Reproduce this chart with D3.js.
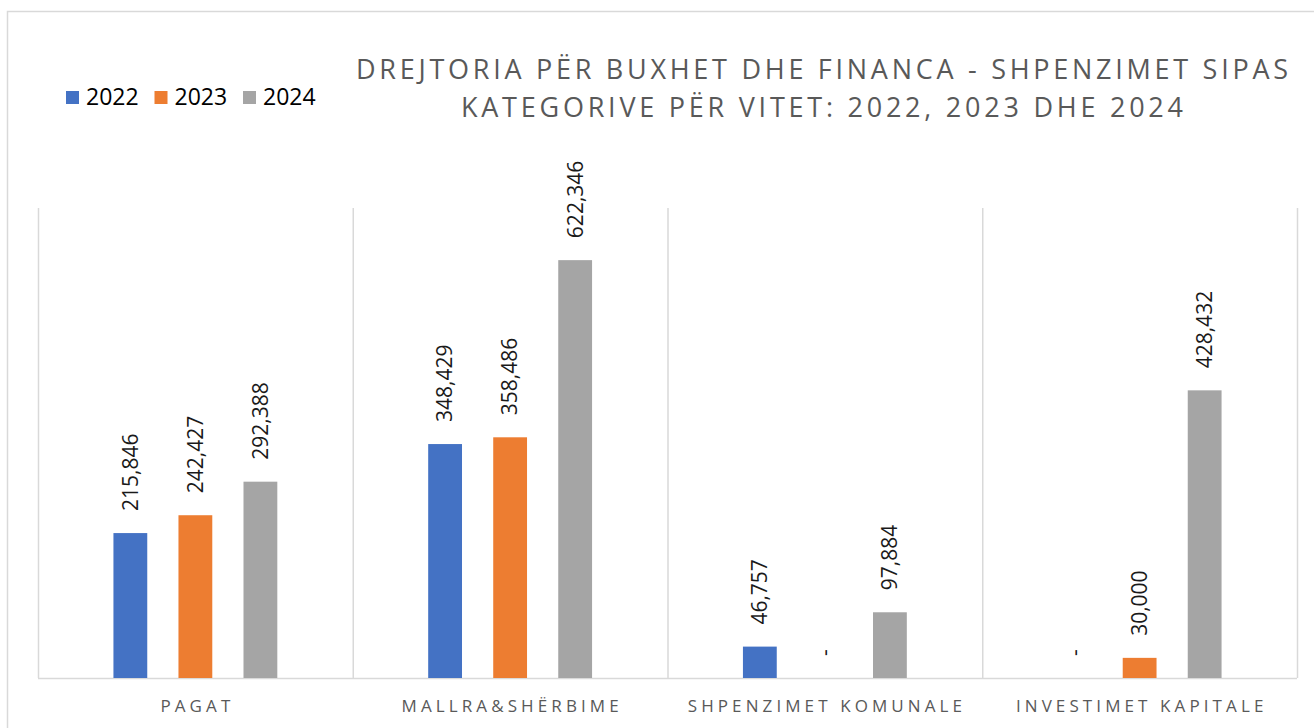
<!DOCTYPE html>
<html>
<head>
<meta charset="utf-8">
<script src="https://cdn.jsdelivr.net/npm/d3@7"></script>
<style>
  body { margin: 0; background: #fff; }
  svg { display: block; font-family: "Open Sans", sans-serif; }
</style>
</head>
<body>
<div id="chart"></div>
<script>
// data
const categories = ["PAGAT", "MALLRA&SHËRBIME", "SHPENZIMET KOMUNALE", "INVESTIMET KAPITALE"];
const years = ["2022", "2023", "2024"];
const values2022 = [215846, 348429, 46757, 0];
const values2023 = [242427, 358486, 0, 30000];
const values2024 = [292388, 622346, 97884, 428432];
const colors = ["#4472C4", "#ED7D31", "#A5A5A5"];
const titleLines = [
  "DREJTORIA PËR BUXHET DHE FINANCA - SHPENZIMET SIPAS",
  "KATEGORIVE PËR VITET: 2022, 2023 DHE 2024"
];

const series = [values2022, values2023, values2024];

const width = 1314, height = 728;
const plot = { left: 38, right: 1297, top: 208, bottom: 678 };

const svg = d3.select("#chart").append("svg")
  .attr("width", width)
  .attr("height", height);

// chart border
svg.append("rect")
  .attr("x", 7.5).attr("y", 11.5)
  .attr("width", 1400).attr("height", 800)
  .attr("fill", "none")
  .attr("stroke", "#d9d9d9")
  .attr("stroke-width", 1.5);

const x0 = d3.scaleBand()
  .domain(categories)
  .range([plot.left, plot.right]);

const x1 = d3.scaleBand()
  .domain(years)
  .range([0, x0.bandwidth()])
  .paddingInner(0.48)
  .paddingOuter(1.16);

const y = d3.scaleLinear()
  .domain([0, 700000])
  .range([plot.bottom, plot.top]);

// vertical gridlines at category boundaries
const bounds = categories.map(c => x0(c)).concat([x0.range()[1]]);
svg.append("g").selectAll("line")
  .data(bounds)
  .join("line")
  .attr("x1", d => d + 0.5).attr("x2", d => d + 0.5)
  .attr("y1", plot.top).attr("y2", plot.bottom)
  .attr("stroke", "#d9d9d9")
  .attr("stroke-width", 1.5);

// baseline
svg.append("line")
  .attr("x1", plot.left).attr("x2", plot.right)
  .attr("y1", plot.bottom + 0.5).attr("y2", plot.bottom + 0.5)
  .attr("stroke", "#d9d9d9")
  .attr("stroke-width", 1.5);

const rows = [];
categories.forEach((c, i) => {
  years.forEach((yr, j) => {
    rows.push({ cat: c, year: yr, value: series[j][i], color: colors[j] });
  });
});

// bars
svg.append("g").selectAll("rect")
  .data(rows.filter(d => d.value > 0))
  .join("rect")
  .attr("x", d => x0(d.cat) + x1(d.year))
  .attr("y", d => y(d.value))
  .attr("width", x1.bandwidth())
  .attr("height", d => y(0) - y(d.value))
  .attr("fill", d => d.color);

// value labels, rotated
const fmt = d3.format(",");
svg.append("g").selectAll("text")
  .data(rows)
  .join("text")
  .attr("transform", d => {
    const cx = x0(d.cat) + x1(d.year) + x1.bandwidth() / 2;
    return `translate(${cx},${y(d.value) - 22}) rotate(-90)`;
  })
  .attr("dy", "0.35em")
  .attr("text-anchor", "start")
  .attr("font-size", 21)
  .attr("fill", "#1a1a1a")
  .text(d => d.value === 0 ? "-" : fmt(d.value));

// category labels
const spacing = 4.1;
svg.append("g").selectAll("text")
  .data(categories)
  .join("text")
  .attr("x", d => x0(d) + x0.bandwidth() / 2 + spacing / 2)
  .attr("y", 712)
  .attr("text-anchor", "middle")
  .attr("font-size", 17)
  .attr("letter-spacing", spacing + "px")
  .attr("fill", "#595959")
  .text(d => d);

// title
const titleLen = [932, 722];
svg.append("g").selectAll("text")
  .data(titleLines)
  .join("text")
  .attr("x", 822)
  .attr("y", (d, i) => 79 + i * 38)
  .attr("text-anchor", "middle")
  .attr("font-size", 27)
  .attr("fill", "#595959")
  .attr("textLength", (d, i) => titleLen[i])
  .attr("lengthAdjust", "spacing")
  .text(d => d);

// legend
const legend = svg.append("g").attr("transform", "translate(66,91)");
const item = legend.selectAll("g")
  .data(years)
  .join("g")
  .attr("transform", (d, i) => `translate(${i * 88.5},0)`);
item.append("rect")
  .attr("width", 13).attr("height", 13)
  .attr("fill", (d, i) => colors[i]);
item.append("text")
  .attr("x", 20).attr("y", 14)
  .attr("font-size", 23)
  .attr("fill", "#000")
  .text(d => d);
</script>
</body>
</html>
